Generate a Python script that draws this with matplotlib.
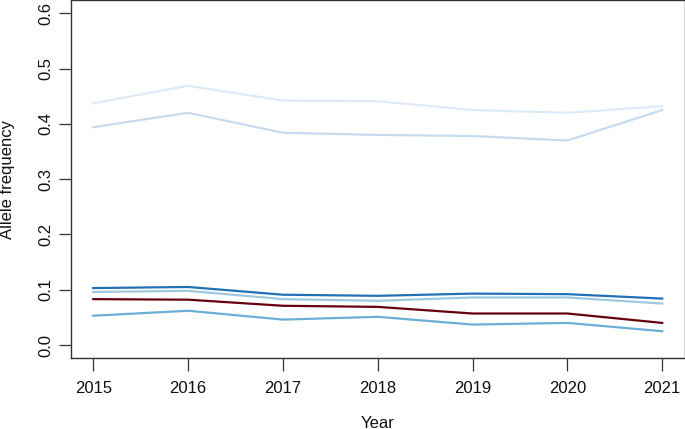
import matplotlib
matplotlib.use("Agg")
import matplotlib.pyplot as plt

years = [2015, 2016, 2017, 2018, 2019, 2020, 2021]
series_lightest = [0.437, 0.469, 0.442, 0.441, 0.425, 0.420, 0.432]
series_light = [0.394, 0.420, 0.384, 0.380, 0.378, 0.370, 0.425]
series_darkblue = [0.103, 0.105, 0.091, 0.089, 0.093, 0.092, 0.084]
series_lightblue = [0.096, 0.098, 0.083, 0.080, 0.086, 0.086, 0.075]
series_darkred = [0.083, 0.082, 0.071, 0.069, 0.057, 0.057, 0.040]
series_midblue = [0.053, 0.062, 0.046, 0.051, 0.037, 0.040, 0.025]

yticks = [0.0, 0.1, 0.2, 0.3, 0.4, 0.5, 0.6]

plt.rcParams['font.family'] = ['Liberation Sans', 'DejaVu Sans']

fig = plt.figure(figsize=(6.85, 4.29), dpi=100)
ax_left, ax_bottom_px, ax_right = 70.5, 358.3, 685.0
ax = fig.add_axes([ax_left / 685, (429 - ax_bottom_px) / 429,
                   (ax_right - ax_left) / 685, ax_bottom_px / 429])

lw = 1.6
ax.plot(years, series_lightest, color='#deebf7', lw=lw)
ax.plot(years, series_light, color='#c6dbef', lw=lw)
ax.plot(years, series_lightblue, color='#9ecae1', lw=lw)
ax.plot(years, series_darkblue, color='#2171b5', lw=lw)
ax.plot(years, series_midblue, color='#6baed6', lw=lw)
ax.plot(years, series_darkred, color='#67000d', lw=lw)

ax.set_xlim(2015 - 0.24, 2021 + 0.24)
ax.set_ylim(-0.024, 0.624)
ax.set_xticks(years)
ax.set_xticklabels([str(y) for y in years])
ax.set_yticks(yticks)
ax.set_yticklabels([f"{v:.1f}" for v in yticks], rotation=90, va='center')

for s in ax.spines.values():
    s.set_color('#333333')
    s.set_linewidth(1.0)

fs = 12
ax.tick_params(axis='both', direction='out', length=9, width=0.9, color='#333333',
               labelsize=fs, labelcolor='#111111')
ax.tick_params(axis='x', pad=7)
ax.tick_params(axis='y', pad=3)

ax.set_xlabel('Year', fontsize=fs, color='#111111', va='center')
ax.xaxis.set_label_coords(0.5, (ax_bottom_px - 423) / ax_bottom_px)
ax.set_ylabel('Allele frequency', fontsize=fs, color='#111111', va='center')
ax.yaxis.set_label_coords((8 - ax_left) / (ax_right - ax_left), 0.5)

fig.savefig('out.png', dpi=100)
